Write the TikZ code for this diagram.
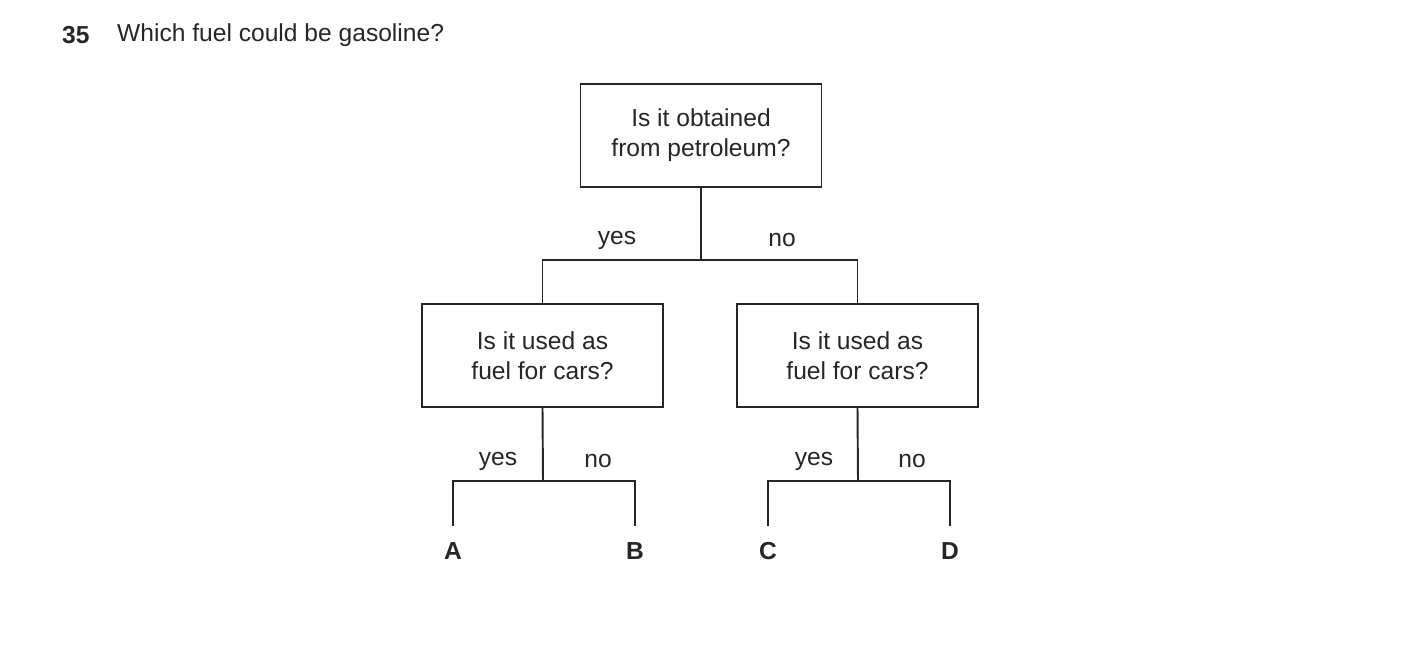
\documentclass[tikz,border=0pt]{standalone}
\usepackage{fontspec}
\setmainfont{Liberation Sans}
\usetikzlibrary{positioning}
\begin{document}
\begin{tikzpicture}[
    x=0.02cm, y=-0.02cm,
    every node/.style={font=\fontsize{14}{17}\selectfont, text=black!85},
    box/.style={rectangle, draw=black!85, line width=1.1pt, minimum width=4.82cm, minimum height=2.06cm, align=center},
    branch/.style={draw=black!85, line width=1.1pt},
    leaf/.style={font=\fontsize{14}{17}\selectfont\bfseries}
]
\useasboundingbox (0,0) rectangle (1403,664);

\node[anchor=west, font=\fontsize{14}{17}\selectfont\bfseries] (num) at (56,35) {35};
\node[anchor=west] (question) at (111,35) {Which fuel could be gasoline?};

\node[box] (top) at (701,135.5) {Is it obtained\\from petroleum?};
\node[box] (left) at (542.5,355.5) {Is it used as\\fuel for cars?};
\node[box] (right) at (857.5,355.5) {Is it used as\\fuel for cars?};

\coordinate (topfork) at (701,260);
\coordinate (leftfork) at (543,481);
\coordinate (rightfork) at (858,481);

\draw[branch] (top.south) -- (topfork);
\draw[branch] (topfork) -| (left.north);
\draw[branch] (topfork) -| (right.north);
\node (topyes) at (617,240) {yes};
\node (topno) at (782,240) {no};

\node[leaf] (A) at (453,551) {A};
\node[leaf] (B) at (635,551) {B};
\node[leaf] (C) at (768,551) {C};
\node[leaf] (D) at (950,551) {D};

\draw[branch] (left.south) -- (leftfork);
\draw[branch] (leftfork) -| ([yshift=0.2cm]A.north);
\draw[branch] (leftfork) -| ([yshift=0.2cm]B.north);
\draw[branch] (right.south) -- (rightfork);
\draw[branch] (rightfork) -| ([yshift=0.2cm]C.north);
\draw[branch] (rightfork) -| ([yshift=0.2cm]D.north);

\node (leftyes) at (498,461) {yes};
\node (leftno) at (598,461) {no};
\node (rightyes) at (814,461) {yes};
\node (rightno) at (912,461) {no};
\end{tikzpicture}
\end{document}
